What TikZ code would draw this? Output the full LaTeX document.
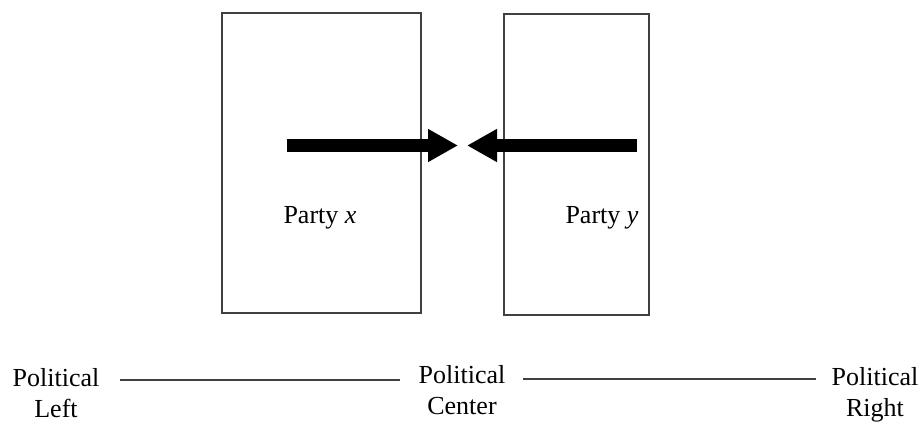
\documentclass[tikz,border=0pt]{standalone}
\usepackage{fontspec}
\setmainfont{Liberation Serif}
\usetikzlibrary{arrows.meta}
\begin{document}
\begin{tikzpicture}[x=1pt,y=-1pt,
  partybox/.style={draw=black!75,line width=1.3pt,rectangle,inner sep=0pt},
  lbl/.style={font=\fontsize{26}{31}\selectfont,inner sep=0pt,align=center},
  push/.style={line width=12.5pt,-{Triangle[length=30pt,width=31pt]}},
  axis/.style={draw=black!75,line width=1.4pt}]
\useasboundingbox (0,0) rectangle (921,422);
% boxes
\node[partybox,minimum width=199pt,minimum height=300pt] (bx) at (321.5,163) {};
\node[partybox,minimum width=145pt,minimum height=301pt] (by) at (576.5,164.5) {};
\node[lbl,anchor=base] (px) at (320,224) {Party \textit{x}};
\node[lbl,anchor=base] (py) at (602,224) {Party \textit{y}};
% arrows
\coordinate (xs) at (287,145.5);
\coordinate (xt) at (458,145.5);
\coordinate (ys) at (637,145.5);
\coordinate (yt) at (467,145.5);
\draw[push] (xs) -- (xt);
\draw[push] (ys) -- (yt);
% spectrum labels (base = baseline of last line)
\node[lbl,anchor=base] (L) at (56,417) {Political\\Left};
\node[lbl,anchor=base] (C) at (462,414) {Political\\Center};
\node[lbl,anchor=base] (R) at (875,416) {Political\\Right};
\draw[axis] ([shift={(20,-37)}]L.base east) -- ([shift={(-18,-34)}]C.base west);
\draw[axis] ([shift={(17,-35)}]C.base east) -- ([shift={(-15,-37)}]R.base west);
\end{tikzpicture}
\end{document}
